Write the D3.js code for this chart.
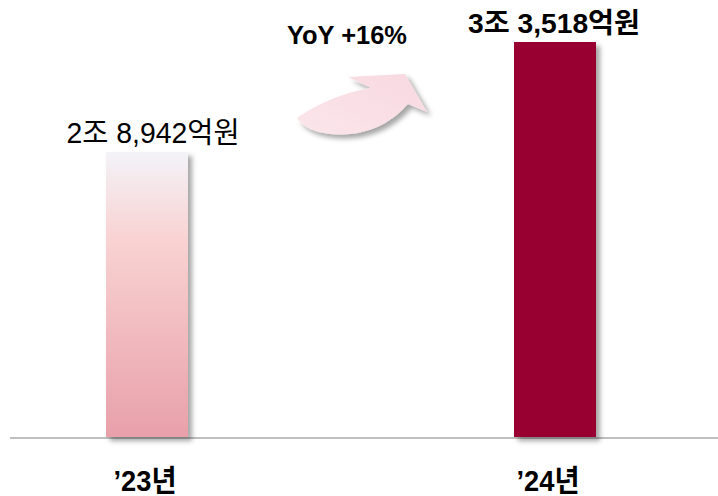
<!DOCTYPE html>
<html><head><meta charset="utf-8">
<script src="https://cdn.jsdelivr.net/npm/d3@7"></script>
<style>html,body{margin:0;padding:0;background:#fff;}svg{display:block;}</style>
</head><body>
<script>
const categories = ["’23년", "’24년"];
const values = [28942, 35118];
const valueLabels = ["2조 8,942억원", "3조 3,518억원"];
const yoyLabel = "YoY +16%";

const W = 718, H = 496;
const baseY = 437;
const FONT = "'Liberation Sans', 'Noto Sans CJK KR', sans-serif";
const svg = d3.select("body").append("svg").attr("width", W).attr("height", H);
const defs = svg.append("defs");

const g1 = defs.append("linearGradient").attr("id", "g23").attr("x1", 0).attr("y1", 0).attr("x2", 0).attr("y2", 1);
g1.append("stop").attr("offset", "0%").attr("stop-color", "#f3f3f8");
g1.append("stop").attr("offset", "30%").attr("stop-color", "#f9d3d3");
g1.append("stop").attr("offset", "100%").attr("stop-color", "#e8a0a9");

const ga = defs.append("linearGradient").attr("id", "garrow").attr("x1", 0).attr("y1", 1).attr("x2", 1).attr("y2", 0);
ga.append("stop").attr("offset", "0%").attr("stop-color", "#fbe6ea");
ga.append("stop").attr("offset", "100%").attr("stop-color", "#f8d8e1");

const sh = defs.append("filter").attr("id", "shadow").attr("x", "-20%").attr("y", "-20%").attr("width", "150%").attr("height", "150%");
sh.append("feDropShadow").attr("dx", 4).attr("dy", 4).attr("stdDeviation", 2.5).attr("flood-color", "#000").attr("flood-opacity", 0.35);

const y = d3.scaleLinear().domain([12940, 35118]).range([baseY, 42]);

// axis line
svg.append("line").attr("x1", 10).attr("x2", 718).attr("y1", baseY + 1).attr("y2", baseY + 1)
  .attr("stroke", "#bfbfbf").attr("stroke-width", 2);

const barW = 82;
const xc = d3.scalePoint().domain(categories).range([147, 555]);

svg.selectAll("rect.bar").data(values).join("rect").attr("class", "bar")
  .attr("x", (d, i) => xc(categories[i]) - barW / 2)
  .attr("y", d => y(d))
  .attr("width", barW)
  .attr("height", d => baseY - y(d))
  .attr("fill", (d, i) => i === 0 ? "url(#g23)" : "#990033")
  .attr("filter", "url(#shadow)");

// value labels
svg.selectAll("text.val").data(values).join("text").attr("class", "val")
  .attr("x", (d, i) => xc(categories[i]) + (i === 0 ? 6 : -1))
  .attr("y", (d, i) => y(d) - (i === 0 ? 9 : 9))
  .attr("text-anchor", "middle")
  .attr("font-family", FONT)
  .attr("font-size", (d, i) => i === 0 ? 29 : 28)
  .attr("font-weight", (d, i) => i === 0 ? "normal" : "bold")
  .attr("textLength", (d, i) => i === 0 ? 173 : 172)
  .attr("lengthAdjust", "spacingAndGlyphs")
  .attr("fill", "#000")
  .text((d, i) => valueLabels[i]);

// category labels
svg.selectAll("text.cat").data(categories).join("text").attr("class", "cat")
  .attr("x", (d, i) => xc(d) + (i === 0 ? -2 : -7))
  .attr("y", 491)
  .attr("text-anchor", "middle")
  .attr("font-family", FONT)
  .attr("font-size", 30)
  .attr("font-weight", "bold")
  .attr("textLength", 63)
  .attr("lengthAdjust", "spacingAndGlyphs")
  .attr("fill", "#000")
  .text(d => d);

// YoY
svg.append("text").attr("x", 347).attr("y", 44).attr("text-anchor", "middle")
  .attr("font-family", FONT)
  .attr("font-size", 25).attr("font-weight", "bold").attr("fill", "#000")
  .attr("textLength", 120).attr("lengthAdjust", "spacingAndGlyphs")
  .text(yoyLabel);

// curved arrow
const arrow = d3.path();
arrow.moveTo(297, 118);
arrow.quadraticCurveTo(330, 95, 371, 88);
arrow.lineTo(348, 77);
arrow.lineTo(405, 74);
arrow.lineTo(427, 112);
arrow.lineTo(408, 104);
arrow.quadraticCurveTo(378, 138, 330, 134);
arrow.quadraticCurveTo(305, 131, 297, 118);
arrow.closePath();
svg.append("path").attr("d", arrow.toString()).attr("fill", "url(#garrow)").attr("filter", "url(#shadow)");
</script>
</body></html>
